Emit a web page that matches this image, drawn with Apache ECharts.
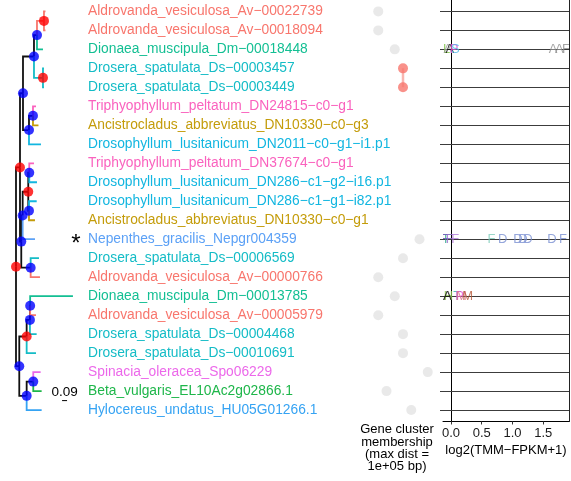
<!DOCTYPE html>
<html>
<head>
<meta charset="utf-8">
<script src="https://cdn.jsdelivr.net/npm/echarts@6/dist/echarts.min.js"></script>
<style>
html,body{margin:0;padding:0;background:#fff;}
#chart{width:571px;height:481px;}
</style>
</head>
<body>
<div id="chart"></div>
<script>
// ---- Gene tree tips, top to bottom ----
const tipLabels = [
  'Aldrovanda_vesiculosa_Av−00022739',
  'Aldrovanda_vesiculosa_Av−00018094',
  'Dionaea_muscipula_Dm−00018448',
  'Drosera_spatulata_Ds−00003457',
  'Drosera_spatulata_Ds−00003449',
  'Triphyophyllum_peltatum_DN24815−c0−g1',
  'Ancistrocladus_abbreviatus_DN10330−c0−g3',
  'Drosophyllum_lusitanicum_DN2011−c0−g1−i1.p1',
  'Triphyophyllum_peltatum_DN37674−c0−g1',
  'Drosophyllum_lusitanicum_DN286−c1−g2−i16.p1',
  'Drosophyllum_lusitanicum_DN286−c1−g1−i82.p1',
  'Ancistrocladus_abbreviatus_DN10330−c0−g1',
  'Nepenthes_gracilis_Nepgr004359',
  'Drosera_spatulata_Ds−00006569',
  'Aldrovanda_vesiculosa_Av−00000766',
  'Dionaea_muscipula_Dm−00013785',
  'Aldrovanda_vesiculosa_Av−00005979',
  'Drosera_spatulata_Ds−00004468',
  'Drosera_spatulata_Ds−00010691',
  'Spinacia_oleracea_Spo06229',
  'Beta_vulgaris_EL10Ac2g02866.1',
  'Hylocereus_undatus_HU05G01266.1'
];
const tipParent = ['n12','n12','n123','n45','n45','n67','n67','n678','n9_10','n9_10','n11_12','n11_12',
  'n9_13','n14_15','n14_15','n16_17','n16_17','n16_18','n16_19','n20_21','n20_21','n20_22'];
const tipBranch = [0.027,0.027,0.108,0.018,0.018,0.054,0.099,0.216,0.085,0.139,0.139,0.108,
  0.222,0.150,0.168,0.771,0.105,0.121,0.168,0.133,0.151,0.270];
const focalTip = 'Nepenthes_gracilis_Nepgr004359';

// ---- Internal nodes (D = duplication, S = speciation) ----
const nodeName   = ['root','nR','nB','nA','n123','n12','n45','n678','n67','nX','n9_13','n9_12','n9_10','n11_12','n14_15','nL','n16_19','n16_18','n16_17','n20_22','n20_21'];
const nodeParent = [null,'root','nR','nB','nA','n123','nA','nB','n678','nR','nX','n9_13','n9_12','n9_12','nX','root','nL','n16_19','n16_18','nL','n20_22'];
const nodeBranch = [0,0.072,0.054,0.198,0.054,0.126,0.162,0.108,0.072,0.023,0.025,0.101,0.018,0.013,0.169,0.059,0.133,0.059,0.004,0.133,0.119];
const nodeEvent  = ['D','D','S','S','S','D','D','S','S','S','S','D','S','S','S','S','D','S','S','S','S'];
const treeScaleValue = 0.09;

// ---- Gene cluster membership ----
const clusterRows   = [1,2,3,4,5,13,14,15,16,17,18,19,20,21,22];
const clusterSlot   = [0,0,2,3,3,5,3,0,2,0,3,3,6,1,4];
const clusterShared = [0,0,0,1,1,0,0,0,0,0,0,0,0,0,0];

// ---- Expression, log2(TMM-FPKM+1), by tissue sample ----
const exprRows = [3, 13, 16];
const exprSample = [
  ['Lg','Ag','A','P','S','Aw','Aw2','Fw'],
  ['Ft','Ft2','Fp','Fp2','Fp3','Ft3','Db','Db2','Db3','Db4','Db5','Fb'],
  ['Ag','H','A','T','P','M','Mb']
];
const exprValue = [
  [-0.07,-0.05,-0.02,0.05,0.07,1.66,1.76,1.87],
  [-0.12,-0.05,-0.10,-0.02,0.07,0.66,0.84,1.09,1.17,1.25,1.64,1.82],
  [-0.05,-0.04,-0.06,0.10,0.14,0.17,0.27]
];

// ---- Styles ----
const speciesColor = {
  Aldrovanda_vesiculosa: '#F8766D',
  Dionaea_muscipula: '#13BF93',
  Drosera_spatulata: '#14BCC6',
  Triphyophyllum_peltatum: '#FA62BE',
  Ancistrocladus_abbreviatus: '#C49C0A',
  Drosophyllum_lusitanicum: '#12B6E0',
  Nepenthes_gracilis: '#5CA1F6',
  Spinacia_oleracea: '#EC68EA',
  Beta_vulgaris: '#1EB64A',
  Hylocereus_undatus: '#35A3F3'
};
const sampleStyle = {
  A: ['A', '#000000'], Ag: ['A', '#9a9a9a'], Aw: ['A', '#8f8f8f'], Aw2: ['A', '#8f8f8f'], Fw: ['F', '#8f8f8f'],
  Lg: ['L', '#7cc243'], P: ['P', '#e552d6'], S: ['S', '#4fb8e8'],
  Ft: ['F', '#2aa889'], Ft2: ['F', '#2aa889'], Ft3: ['F', '#7fcdbb'],
  Fp: ['F', '#7d58c2'], Fp2: ['F', '#9a6ad0'], Fp3: ['F', '#b07ad8'],
  Db: ['D', '#7b90d2'], Db2: ['D', '#7b90d2'], Db3: ['D', '#7b90d2'], Db4: ['D', '#7b90d2'], Db5: ['D', '#7b90d2'], Fb: ['F', '#7b90d2'],
  H: ['H', '#8bc34a'], T: ['T', '#33b5a5'], M: ['M', '#e0708a'], Mb: ['M', '#b5583a']
};
const nodeColor = { D: '#FF0000', S: '#0000FF' };
const FONT = 'Liberation Sans, Arial, Helvetica, sans-serif';

// ---- Tree layout ----
const speciesOf = l => l.split('_').slice(0, 2).join('_');
const kids = {};
nodeName.forEach((n, i) => { if (nodeParent[i]) (kids[nodeParent[i]] = kids[nodeParent[i]] || []).push({ node: i }); });
tipParent.forEach((p, i) => (kids[p] = kids[p] || []).push({ tip: i }));
const pos = {};   // node name -> {x, y, sp}
const tipPos = [];
function layout(name, depth) {
  const ys = [], sp = new Set();
  (kids[name] || []).forEach(k => {
    if (k.tip !== undefined) {
      const y = k.tip + 1, x = depth + tipBranch[k.tip];
      tipPos[k.tip] = { x, y, sp: speciesOf(tipLabels[k.tip]) };
      ys.push(y); sp.add(tipPos[k.tip].sp);
    } else {
      const c = nodeName[k.node];
      layout(c, depth + nodeBranch[k.node]);
      ys.push(pos[c].y); pos[c].sp.forEach(s => sp.add(s));
    }
  });
  pos[name] = { x: depth, y: (Math.min(...ys) + Math.max(...ys)) / 2, sp };
}
layout('root', 0);

const MIXED = '#111111';
const edges = [];
Object.keys(kids).forEach(p => {
  kids[p].forEach(k => {
    let c, col;
    if (k.tip !== undefined) { c = tipPos[k.tip]; col = speciesColor[c.sp]; }
    else { c = pos[nodeName[k.node]]; col = c.sp.size === 1 ? speciesColor[[...c.sp][0]] : MIXED; }
    edges.push({ value: [pos[p].x, pos[p].y, c.x, c.y], color: col });
  });
});
// black backbone first, coloured single-species branches on top
edges.sort((a, b) => (a.color === MIXED ? 0 : 1) - (b.color === MIXED ? 0 : 1));
const nodePoints = nodeName.map((n, i) => ({ value: [pos[n].x, pos[n].y], itemStyle: { color: nodeColor[nodeEvent[i]] } }));

// ---- Geometry ----
const Y_MIN = 0.4, Y_MAX = 22.6, ROW_PX = 19.05;
const GRID_TOP = 10 + (Y_MIN - 1) * ROW_PX;
const GRID_H = (Y_MAX - Y_MIN) * ROW_PX;
const TREE_PX = 55.5, ROOT_PX = 16, TREE_W = 365;
const treeMin = -ROOT_PX / TREE_PX, treeMax = treeMin + TREE_W / TREE_PX;
const LABEL_PX = 88;

const yAxisBase = { type: 'value', min: Y_MIN, max: Y_MAX, inverse: true, show: false };

const option = {
  animation: false,
  backgroundColor: '#ffffff',
  grid: [
    { left: 0, top: GRID_TOP, width: TREE_W, height: GRID_H },
    { left: 370, top: GRID_TOP, width: 66, height: GRID_H },
    { left: 443, top: GRID_TOP, width: 126, height: GRID_H }
  ],
  xAxis: [
    { gridIndex: 0, type: 'value', min: treeMin, max: treeMax, show: false },
    { gridIndex: 1, type: 'value', min: -1, max: 7, show: false },
    { gridIndex: 2, type: 'value', min: -0.13, max: 1.919,
      axisLine: { show: true, lineStyle: { color: '#000', width: 1 } },
      axisTick: { show: true, length: 3, customValues: [0, 0.5, 1, 1.5], lineStyle: { color: '#333' } },
      axisLabel: { customValues: [0, 0.5, 1, 1.5], formatter: v => v.toFixed(1), fontSize: 13, color: '#1a1a1a', fontFamily: FONT, margin: 5 },
      splitLine: { show: false },
      name: 'log2(TMM−FPKM+1)', nameLocation: 'middle', nameGap: 22,
      nameTextStyle: { fontSize: 13, color: '#000', fontFamily: FONT } }
  ],
  yAxis: [
    Object.assign({ gridIndex: 0 }, yAxisBase),
    Object.assign({ gridIndex: 1 }, yAxisBase),
    Object.assign({ gridIndex: 2 }, yAxisBase, { show: true, axisLine: { show: true, lineStyle: { color: '#000', width: 1 } },
      axisTick: { show: false }, axisLabel: { show: false }, splitLine: { show: false } }),
    Object.assign({ gridIndex: 2 }, yAxisBase, { show: true, position: 'right', axisLine: { show: true, lineStyle: { color: '#222', width: 1 } },
      axisTick: { show: false }, axisLabel: { show: false }, splitLine: { show: false } })
  ],
  graphic: [{
    type: 'text', x: 397, y: 423.5,
    style: { text: 'Gene cluster\nmembership\n(max dist =\n1e+05 bp)', fontSize: 13, lineHeight: 12.4,
      fontFamily: FONT, fill: '#000', align: 'center', verticalAlign: 'top' }
  }],
  series: [
    // tree branches
    {
      type: 'custom', xAxisIndex: 0, yAxisIndex: 0, silent: true,
      data: edges.map(e => e.value),
      renderItem: (params, api) => {
        const p = api.coord([api.value(0), api.value(1)]);
        const c = api.coord([api.value(2), api.value(3)]);
        return { type: 'polyline', shape: { points: [p, [p[0], c[1]], c] },
          style: { stroke: edges[params.dataIndex].color, lineWidth: 1.8, fill: null } };
      }
    },
    // duplication / speciation nodes
    { type: 'scatter', xAxisIndex: 0, yAxisIndex: 0, symbolSize: 10, data: nodePoints, silent: true, z: 3 },
    // tip labels
    {
      type: 'custom', xAxisIndex: 0, yAxisIndex: 0, silent: true, clip: false,
      data: tipLabels.map((l, i) => [0, i + 1]),
      renderItem: (params, api) => {
        const y = api.coord([0, api.value(1)])[1];
        const label = tipLabels[params.dataIndex];
        const children = [{ type: 'text', x: params.coordSys.x + LABEL_PX, y,
          style: { text: label, fill: speciesColor[speciesOf(label)], fontSize: 13.8, fontFamily: FONT,
            verticalAlign: 'middle', align: 'left' } }];
        if (label === focalTip) {
          children.push({ type: 'text', x: params.coordSys.x + LABEL_PX - 12, y: y + 5,
            style: { text: '*', fill: '#000', fontSize: 24, fontFamily: FONT, verticalAlign: 'middle', align: 'center' } });
        }
        return { type: 'group', children };
      }
    },
    // tree scale bar
    {
      type: 'custom', xAxisIndex: 0, yAxisIndex: 0, silent: true, clip: false,
      data: [[0.83, 21.5]],
      renderItem: (params, api) => {
        const a = api.coord([api.value(0), api.value(1)]);
        const b = api.coord([api.value(0) + treeScaleValue, api.value(1)]);
        return { type: 'group', children: [
          { type: 'line', shape: { x1: a[0], y1: a[1], x2: b[0], y2: b[1] }, style: { stroke: '#000', lineWidth: 1 } },
          { type: 'text', x: (a[0] + b[0]) / 2, y: a[1] - 8.5, style: { text: String(treeScaleValue), fontSize: 13.5, fontFamily: FONT,
            fill: '#000', align: 'center', verticalAlign: 'middle' } }
        ] };
      }
    },
    // cluster link
    {
      type: 'line', xAxisIndex: 1, yAxisIndex: 1, symbol: 'none', silent: true,
      data: clusterRows.map((r, i) => clusterShared[i] ? [clusterSlot[i], r] : null).filter(Boolean),
      lineStyle: { color: '#F9B6B0', width: 2.5 }, z: 1
    },
    // cluster membership dots
    {
      type: 'scatter', xAxisIndex: 1, yAxisIndex: 1, symbolSize: 10, silent: true, z: 2,
      data: clusterRows.map((r, i) => ({ value: [clusterSlot[i], r],
        itemStyle: { color: clusterShared[i] ? '#F8766D' : '#E3E3E3' } }))
    },
    // expression panel row lines with left ticks
    {
      type: 'custom', xAxisIndex: 2, yAxisIndex: 2, silent: true, clip: false,
      data: tipLabels.map((l, i) => [0, i + 1]),
      renderItem: (params, api) => {
        const y = Math.round(api.coord([0, api.value(1)])[1]) + 0.5;
        const cs = params.coordSys;
        return { type: 'line', shape: { x1: cs.x - 3, y1: y, x2: cs.x + cs.width, y2: y },
          style: { stroke: '#3c3c3c', lineWidth: 1.2 } };
      }
    },
    // expression values as tissue letters
    {
      type: 'custom', xAxisIndex: 2, yAxisIndex: 2, silent: true, clip: true, z: 3,
      data: exprRows.flatMap((r, g) => exprValue[g].map((v, k) => [v, r, g, k])),
      renderItem: (params, api) => {
        const p = api.coord([api.value(0), api.value(1)]);
        const st = sampleStyle[exprSample[api.value(2)][api.value(3)]];
        return { type: 'text', x: p[0], y: p[1],
          style: { text: st[0], fill: st[1], opacity: 0.8, fontSize: 13, fontFamily: FONT, align: 'center', verticalAlign: 'middle' } };
      }
    }
  ]
};

const chart = echarts.init(document.getElementById('chart'));
chart.setOption(option);
</script>
</body>
</html>
